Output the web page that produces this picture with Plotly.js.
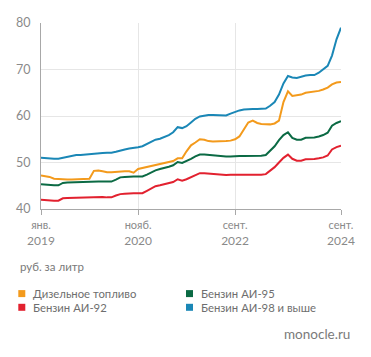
<!DOCTYPE html>
<html>
<head>
<meta charset="utf-8">
<script src="https://cdn.plot.ly/plotly-3.0.1.min.js"></script>
<style>html,body{margin:0;padding:0;background:#fff;}#chart{width:371px;height:357px;}</style>
</head>
<body>
<div id="chart"></div>
<script>
// Monthly data, Jan 2019 .. Sep 2024 (69 months), rub per litre
const startYear = 2019, startMonth = 1, nMonths = 69;
const diesel = [47.2,47.1,46.9,46.5,46.4,46.35,46.35,46.35,46.4,46.4,46.45,46.5,48.2,48.3,48.1,47.9,47.9,48.0,48.1,48.1,48.1,47.8,48.6,48.8,49.0,49.3,49.5,49.7,49.9,50.1,50.3,50.9,50.9,52.4,53.7,54.3,55.0,54.9,54.6,54.5,54.5,54.5,54.6,54.7,55.0,55.6,57.2,58.6,59.0,58.5,58.3,58.2,58.2,58.4,59.0,63.0,65.3,64.3,64.4,64.6,65.0,65.1,65.2,65.4,65.7,66.1,66.8,67.2,67.3];
const ai95 = [45.3,45.2,45.15,45.1,45.1,45.6,45.7,45.75,45.8,45.8,45.8,45.85,45.9,45.9,45.9,45.9,45.9,46.3,46.8,46.9,47.0,47.0,47.0,47.0,47.4,47.9,48.3,48.6,48.8,49.1,49.4,50.1,49.9,50.3,50.8,51.3,51.7,51.7,51.6,51.5,51.4,51.3,51.3,51.3,51.4,51.4,51.4,51.4,51.45,51.45,51.45,51.6,52.5,53.5,54.8,55.9,56.5,55.3,54.9,54.9,55.3,55.3,55.4,55.6,55.9,56.4,57.9,58.5,58.9];
const ai92 = [42.0,41.9,41.85,41.8,41.8,42.3,42.35,42.4,42.4,42.4,42.4,42.5,42.6,42.6,42.6,42.5,42.5,42.9,43.2,43.3,43.4,43.4,43.4,43.4,43.9,44.5,44.9,45.1,45.3,45.5,45.8,46.4,46.1,46.4,46.9,47.3,47.7,47.7,47.6,47.5,47.4,47.3,47.3,47.35,47.4,47.4,47.35,47.35,47.3,47.3,47.35,47.5,48.2,49.0,50.0,51.0,51.7,50.8,50.4,50.4,50.7,50.7,50.75,50.9,51.1,51.5,52.8,53.3,53.6];
const ai98 = [51.0,50.9,50.85,50.8,50.8,51.0,51.2,51.5,51.6,51.6,51.7,51.8,52.0,52.0,52.05,52.1,52.1,52.3,52.6,52.8,53.0,53.1,53.3,53.5,54.0,54.5,54.9,55.1,55.5,55.9,56.5,57.6,57.4,57.8,58.6,59.4,59.9,60.1,60.2,60.2,60.2,60.1,60.1,60.5,60.9,61.2,61.4,61.5,61.5,61.5,61.5,61.6,62.2,63.0,64.6,67.0,68.6,68.3,68.2,68.5,68.7,68.8,68.8,69.3,70.0,70.8,73.0,76.5,79.0];

const seriesNames = ['Дизельное топливо','Бензин АИ-95','Бензин АИ-92','Бензин АИ-98 и выше'];
const seriesColors = ['#f39a1c','#0b6a44','#e2212f','#1a87b6'];
const tickVals = ['2019-01-01','2020-11-01','2022-09-01','2024-09-01'];
const tickMonths = ['янв.','нояб.','сент.','сент.'];
const tickYears = ['2019','2020','2022','2024'];
const unitLabel = 'руб. за литр';
const sourceLabel = 'monocle.ru';

const dates = [];
for (let i = 0; i < nMonths; i++) {
  const m0 = startMonth - 1 + i;
  const y = startYear + Math.floor(m0 / 12);
  const m = (m0 % 12) + 1;
  dates.push(y + '-' + String(m).padStart(2, '0') + '-01');
}

const W = 371, H = 357;
const L = 41, R = 30, T = 22.7, B = 148.3;
const pw = W - L - R, ph = H - T - B;
const px = x => (x - L) / pw;
const py = y => (H - B - y) / ph;

const FONT = 'Lato, "Open Sans", sans-serif';
const data = [diesel, ai95, ai92, ai98].map((vals, i) => ({
  type: 'scatter', mode: 'lines', x: dates, y: vals, name: seriesNames[i],
  line: {color: seriesColors[i], width: 2}, showlegend: false, hoverinfo: 'skip'
}));

const annotations = [
  {text: unitLabel, xref: 'paper', yref: 'paper', x: px(18), y: py(266), xanchor: 'left', yanchor: 'middle', showarrow: false, font: {family: FONT, size: 11.5, color: '#7a7a7a'}},
  {text: sourceLabel, xref: 'paper', yref: 'paper', x: px(352), y: py(334), xanchor: 'right', yanchor: 'middle', showarrow: false, font: {family: FONT, size: 13.5, color: '#7a7a7a'}}
];
const shapes = [];
const legendPos = [[18.3, 293.3], [186, 293.3], [18.3, 307], [186, 307]];
const legendOrder = [0, 1, 2, 3];
legendOrder.forEach((si, k) => {
  const [lx, ly] = legendPos[k];
  shapes.push({type: 'rect', xref: 'paper', yref: 'paper', x0: px(lx), x1: px(lx + 7), y0: py(ly + 3.5), y1: py(ly - 3.5), fillcolor: seriesColors[si], line: {width: 0}});
  annotations.push({text: seriesNames[si], xref: 'paper', yref: 'paper', x: px(lx + 13), y: py(ly), xanchor: 'left', yanchor: 'middle', showarrow: false, font: {family: FONT, size: 11.3, color: '#6e6e6e'}});
});

const layout = {
  width: W, height: H,
  margin: {l: L, r: R, t: T, b: B, pad: 0},
  paper_bgcolor: '#ffffff', plot_bgcolor: '#ffffff',
  font: {family: FONT, color: '#888'},
  xaxis: {
    type: 'date', range: ['2019-01-01', '2024-09-01'],
    tickmode: 'array', tickvals: tickVals,
    ticktext: tickVals.map((v, i) => '<span style="font-size:11px">' + tickMonths[i] + '</span><br>' + tickYears[i]),
    tickfont: {family: FONT, size: 12, color: '#8a8a8a'},
    showgrid: true, gridcolor: '#e6e6e6', gridwidth: 1,
    showline: true, linecolor: '#a8a8a8', linewidth: 1,
    ticks: 'outside', ticklen: 5, tickcolor: '#a8a8a8', zeroline: false
  },
  yaxis: {
    range: [40, 80], tickmode: 'array', tickvals: [40, 50, 60, 70, 80],
    tickfont: {family: FONT, size: 12.5, color: '#8a8a8a'},
    showgrid: true, gridcolor: '#e6e6e6', gridwidth: 1,
    showline: true, linecolor: '#a8a8a8', linewidth: 1,
    ticks: '', ticklabelstandoff: 7, zeroline: false
  },
  annotations: annotations,
  shapes: shapes
};

Plotly.newPlot('chart', data, layout, {staticPlot: true, displayModeBar: false});
</script>
</body>
</html>
